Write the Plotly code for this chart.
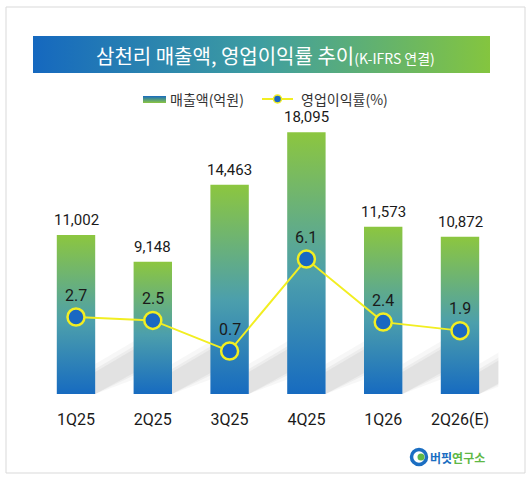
import plotly.graph_objects as go

# data
quarters = ['1Q25', '2Q25', '3Q25', '4Q25', '1Q26', '2Q26(E)']
sales = [11002, 9148, 14463, 18095, 11573, 10872]   # 매출액(억원)
op_margin = [2.7, 2.5, 0.7, 6.1, 2.4, 1.9]          # 영업이익률(%)

W, H = 532, 480
FONT = 'Roboto, "Noto Sans CJK KR", sans-serif'
KFONT = '"Noto Sans CJK KR", Roboto, sans-serif'

bar_scale = [[0, '#176bc0'], [0.45, '#4c9fac'], [1, '#8cc63f']]
half = 0.25
Y1_MAX = 20332
PX = Y1_MAX / 294.0     # sales units per pixel (plot area 294px tall)

fig = go.Figure()

# soft drop shadows behind each bar (decoration)
for i in range(len(sales)):
    xr = i + half
    dx = 0.62
    for grow, alpha in [(8, 0.05), (3, 0.06), (0, 0.07)]:
        fig.add_trace(go.Scatter(
            x=[xr, xr + dx, xr + dx, xr, xr],
            y=[0, (26 - grow) * PX, (50 + grow) * PX, (22 + grow) * PX, 0],
            mode='lines', fill='toself', fillcolor=f'rgba(90,90,90,{alpha})',
            line=dict(width=0, color='rgba(0,0,0,0)'),
            hoverinfo='skip', showlegend=False))

# bars drawn as gradient-filled polygons, one per quarter
for i, v in enumerate(sales):
    fig.add_trace(go.Scatter(
        x=[i - half, i + half, i + half, i - half, i - half],
        y=[0, 0, v, v, 0],
        mode='lines', fill='toself',
        fillgradient=dict(type='vertical', colorscale=bar_scale),
        line=dict(width=0, color='rgba(0,0,0,0)'),
        hoverinfo='skip', showlegend=False))

# operating margin line
fig.add_trace(go.Scatter(
    x=list(range(len(quarters))), y=op_margin, yaxis='y2',
    mode='lines+markers',
    line=dict(color='#f2ee22', width=2),
    marker=dict(size=17, color='#1a68c2', line=dict(color='#f2ee22', width=2.5)),
    showlegend=False, hoverinfo='skip'))

# overlay axis in pixel units for banner / legend / logo
fig.add_trace(go.Scatter(
    x=[33, 490, 490, 33, 33], y=[36, 36, 73, 73, 36],
    xaxis='x3', yaxis='y3', mode='lines', fill='toself',
    fillgradient=dict(type='horizontal',
                      colorscale=[[0, '#1568bf'], [0.5, '#3f9ea0'], [1, '#84c53f']]),
    line=dict(width=0, color='rgba(0,0,0,0)'),
    hoverinfo='skip', showlegend=False))
# legend swatch
fig.add_trace(go.Scatter(
    x=[143, 166, 166, 143, 143], y=[96, 96, 103, 103, 96],
    xaxis='x3', yaxis='y3', mode='lines', fill='toself',
    fillgradient=dict(type='vertical', colorscale=[[0, '#8cc63f'], [1, '#176bc0']]),
    line=dict(width=0, color='rgba(0,0,0,0)'),
    hoverinfo='skip', showlegend=False))
fig.add_trace(go.Scatter(
    x=[262, 293], y=[99, 99], xaxis='x3', yaxis='y3', mode='lines',
    line=dict(color='#f2ee22', width=2), hoverinfo='skip', showlegend=False))
fig.add_trace(go.Scatter(
    x=[277.5], y=[99], xaxis='x3', yaxis='y3', mode='markers',
    marker=dict(size=8, color='#1a68c2', line=dict(color='#f2ee22', width=1.5)),
    hoverinfo='skip', showlegend=False))
# logo icon
fig.add_trace(go.Scatter(
    x=[419], y=[457], xaxis='x3', yaxis='y3', mode='markers',
    marker=dict(size=15, color='white', line=dict(color='#1b6ec2', width=3.5)),
    hoverinfo='skip', showlegend=False))
fig.add_trace(go.Scatter(
    x=[421], y=[457], xaxis='x3', yaxis='y3', mode='markers',
    marker=dict(size=7, color='#5fb846'),
    hoverinfo='skip', showlegend=False))

annotations = []
for i, v in enumerate(sales):
    annotations.append(dict(x=i, y=v, xref='x', yref='y', text=f'{v:,}',
                            showarrow=False, yshift=15, yanchor='middle',
                            font=dict(size=15, color='#1a1a1a', family=FONT)))
for i, v in enumerate(op_margin):
    annotations.append(dict(x=i, y=v, xref='x', yref='y2', text=f'{v}',
                            showarrow=False, yshift=22, yanchor='middle',
                            font=dict(size=16, color='#1a1a1a', family=FONT)))

annotations += [
    dict(x=265 / W, y=1 - 55 / H, xref='paper', yref='paper', showarrow=False,
         xanchor='center', yanchor='middle',
         text='삼천리 매출액, 영업이익률 추이<span style="font-size:14px">(K-IFRS 연결)</span>',
         font=dict(size=20, color='white', family=KFONT)),
    dict(x=168 / W, y=1 - 99 / H, xref='paper', yref='paper', showarrow=False,
         xanchor='left', yanchor='middle', text='매출액(억원)',
         font=dict(size=14, color='#333333', family=KFONT)),
    dict(x=299 / W, y=1 - 99 / H, xref='paper', yref='paper', showarrow=False,
         xanchor='left', yanchor='middle', text='영업이익률(%)',
         font=dict(size=14, color='#333333', family=KFONT)),
    dict(x=428 / W, y=1 - 457 / H, xref='paper', yref='paper', showarrow=False,
         xanchor='left', yanchor='middle',
         text='<b><span style="color:#1b6ec2">버핏</span><span style="color:#5fb846">연구소</span></b>',
         font=dict(size=12, family=KFONT)),
]

fig.update_layout(
    width=W, height=H, margin=dict(l=0, r=0, t=0, b=0),
    paper_bgcolor='white', plot_bgcolor='rgba(0,0,0,0)',
    showlegend=False,
    xaxis=dict(domain=[37.6 / W, 498.4 / W], range=[-0.5, 5.5],
               tickvals=list(range(len(quarters))), ticktext=quarters,
               showgrid=False, zeroline=False, showline=False, ticks='',
               ticklabelstandoff=14,
               tickfont=dict(size=16, color='#1a1a1a', family=FONT)),
    yaxis=dict(domain=[1 - 394 / H, 1 - 100 / H], range=[0, Y1_MAX], visible=False),
    yaxis2=dict(overlaying='y', range=[-1.82, 15.44], visible=False),
    xaxis3=dict(domain=[0, 1], range=[0, W], visible=False, anchor='y3'),
    yaxis3=dict(domain=[0, 1], range=[H, 0], visible=False, anchor='x3'),
    shapes=[dict(type='rect', xref='paper', yref='paper',
                 x0=6 / W, x1=525 / W, y0=1 - 473 / H, y1=1 - 7 / H,
                 line=dict(color='#d9d9d9', width=1), layer='below')],
    annotations=annotations,
)

fig.write_html("out.html", config={'displayModeBar': False},
               post_script="document.body.style.margin='0';")
